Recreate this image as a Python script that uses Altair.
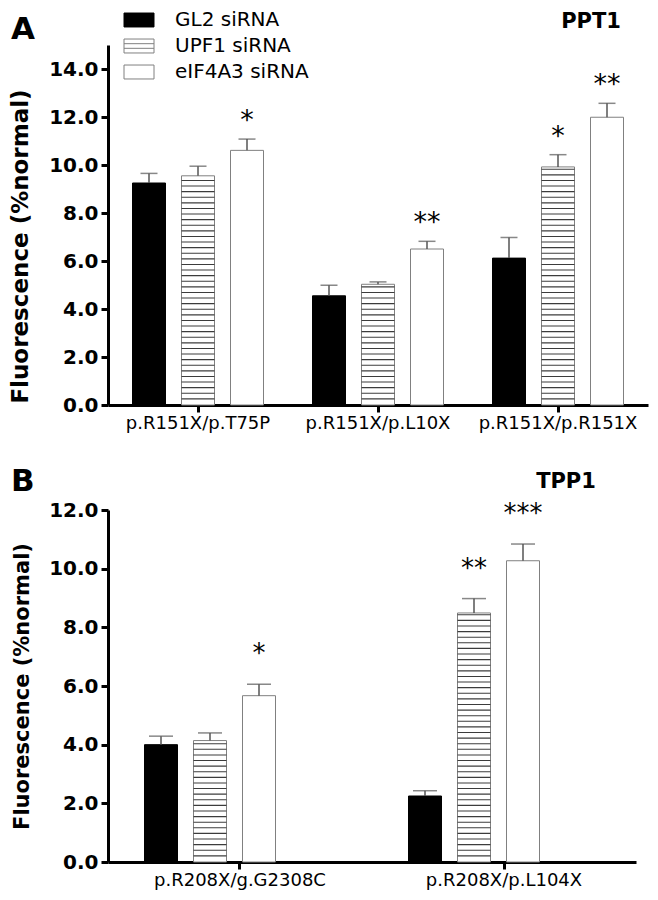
import altair as alt
import pandas as pd

series = ["GL2 siRNA", "UPF1 siRNA", "eIF4A3 siRNA"]

# Panel A (PPT1)
cats_a = ["p.R151X/p.T75P", "p.R151X/p.L10X", "p.R151X/p.R151X"]
gl2_a = [9.25, 4.55, 6.12]
gl2_a_err = [0.40, 0.44, 0.86]
upf1_a = [9.55, 5.03, 9.92]
upf1_a_err = [0.40, 0.10, 0.51]
eif_a = [10.61, 6.50, 11.99]
eif_a_err = [0.47, 0.32, 0.58]
gl2_a_sig = ["", "", ""]
upf1_a_sig = ["", "", "*"]
eif_a_sig = ["*", "**", "**"]
ticks_a = [0, 2, 4, 6, 8, 10, 12, 14]

# Panel B (TPP1)
cats_b = ["p.R208X/g.G2308C", "p.R208X/p.L104X"]
gl2_b = [4.00, 2.25]
gl2_b_err = [0.29, 0.18]
upf1_b = [4.14, 8.49]
upf1_b_err = [0.26, 0.49]
eif_b = [5.67, 10.27]
eif_b_err = [0.39, 0.57]
gl2_b_sig = ["", ""]
upf1_b_sig = ["", "**"]
eif_b_sig = ["*", "***"]
ticks_b = [0, 2, 4, 6, 8, 10, 12]

FONT = "DejaVu Sans"


def frame(cats, vals, errs, sigs):
    rows = []
    for s, v, e, g in zip(series, vals, errs, sigs):
        for c, vv, ee, gg in zip(cats, v, e, g):
            rows.append({"cat": c, "series": s, "value": vv, "err": ee, "sig": gg})
    return pd.DataFrame(rows)


df_a = frame(cats_a, [gl2_a, upf1_a, eif_a], [gl2_a_err, upf1_a_err, eif_a_err],
             [gl2_a_sig, upf1_a_sig, eif_a_sig])
df_b = frame(cats_b, [gl2_b, upf1_b, eif_b], [gl2_b_err, upf1_b_err, eif_b_err],
             [gl2_b_sig, upf1_b_sig, eif_b_sig])

rect_path = "M-2,-0.93H2V0.93H-2Z"
hatch_path = "M-2,-0.93H2V0.93H-2Z M-2,-0.31H2 M-2,0.31H2"


def panel(df, cats, width, height, ymax, ticks, px_unit, pin, pin_off,
          cap, star_size, star_dy, letter, letter_xy, gene, gene_xy,
          tick_fs, title_fs, title_weight, title_y=None, legend=False):
    base = alt.Chart(df).transform_calculate(top="datum.value + datum.err")
    x = alt.X("cat:N", sort=cats,
              scale=alt.Scale(domain=cats, paddingInner=pin, paddingOuter=pin / 2),
              axis=alt.Axis(title=None, labelAngle=0, domainWidth=3, domainColor="black",
                            tickWidth=3, tickSize=7, tickColor="black",
                            labelFont=FONT, labelFontSize=18, labelColor="black",
                            labelPadding=2))
    xo = alt.XOffset("series:N", sort=series,
                     scale=alt.Scale(domain=series, paddingInner=pin_off, paddingOuter=0))
    yaxis = dict(values=ticks, format=".1f", grid=False, domainWidth=3,
                 domainColor="black", tickWidth=3, tickSize=7, tickColor="black",
                 labelFont=FONT, labelFontSize=tick_fs, labelFontWeight="bold",
                 labelColor="black", labelPadding=3,
                 title="Fluorescence (%normal)", titleFont=FONT,
                 titleFontSize=title_fs, titleFontWeight=title_weight, titleColor="black",
                 titlePadding=16)
    if title_y is not None:
        yaxis["titleY"] = title_y
    y = alt.Y("value:Q", scale=alt.Scale(domain=[0, ymax], nice=False, zero=True),
              axis=alt.Axis(**yaxis))

    is_gl2 = alt.datum.series == "GL2 siRNA"
    bars = base.mark_bar(strokeWidth=1).encode(
        x=x, xOffset=xo, y=y,
        fill=alt.condition(is_gl2, alt.value("black"), alt.value("white")),
        stroke=alt.condition(is_gl2, alt.value("black"), alt.value("#808080")),
    )
    step = 5.6 / px_unit
    thick = 1.1 / px_unit
    hatch = base.transform_filter(alt.datum.series == "UPF1 siRNA").transform_calculate(
        hy=f"sequence({step}, datum.value, {step})"
    ).transform_flatten(["hy"]).transform_calculate(
        hy2=f"datum.hy + {thick}"
    ).mark_bar(fill="#3c3c3c", strokeWidth=0).encode(
        x=x, xOffset=xo, y=alt.Y("hy:Q"), y2=alt.Y2("hy2:Q"))
    err = base.mark_rule(color="#555555", strokeWidth=1.5).encode(
        x=x, xOffset=xo, y=alt.Y("value:Q"), y2=alt.Y2("top:Q"))
    caps = base.mark_tick(color="#555555", thickness=1.5, size=cap, orient="horizontal").encode(
        x=x, xOffset=xo, y=alt.Y("top:Q"))
    stars = base.mark_text(font=FONT, fontSize=star_size, dy=star_dy, color="black",
                           baseline="alphabetic").encode(
        x=x, xOffset=xo, y=alt.Y("top:Q"), text="sig:N")
    lab = alt.Chart(pd.DataFrame({"t": [letter]})).mark_text(
        font=FONT, fontSize=31, fontWeight="bold", align="left", baseline="alphabetic",
        color="black").encode(text="t:N", x=alt.value(letter_xy[0]), y=alt.value(letter_xy[1]))
    gen = alt.Chart(pd.DataFrame({"t": [gene]})).mark_text(
        font=FONT, fontSize=21, fontWeight="bold", align="center", baseline="alphabetic",
        color="black").encode(text="t:N", x=alt.value(gene_xy[0]), y=alt.value(gene_xy[1]))
    layers = [bars, hatch, err, caps, stars, lab, gen]
    if legend:
        lg = alt.Legend(title=None, orient="none", legendX=16, legendY=-35,
                        symbolSize=225, symbolOffset=5, labelFont=FONT, labelFontSize=20,
                        labelColor="black", labelOffset=26, rowPadding=6,
                        padding=0, symbolStrokeWidth=1, symbolOpacity=1)
        leg = base.mark_point(opacity=0, filled=True, strokeWidth=1).encode(
            x=x, xOffset=xo, y=alt.Y("value:Q"),
            shape=alt.Shape("series:N", scale=alt.Scale(domain=series,
                            range=[rect_path, hatch_path, rect_path]), legend=lg),
            fill=alt.Fill("series:N", scale=alt.Scale(domain=series,
                          range=["black", "white", "white"]), legend=lg),
            stroke=alt.Stroke("series:N", scale=alt.Scale(domain=series,
                              range=["black", "#808080", "#808080"]), legend=lg),
        )
        layers.append(leg)
    return alt.layer(*layers).properties(
        width=width, height=height,
        view=alt.ViewBackground(stroke="white", strokeWidth=0, strokeOpacity=0))


pa = panel(df_a, cats_a, 540, 360, 15, ticks_a, 24, 49 / 180, 16 / 49,
           17, 27, -10, "A", (-97, -6), "PPT1", (483, -17), 20, 23, "bold",
           title_y=201, legend=True)
pb = panel(df_b, cats_b, 528, 352, 12, ticks_b, 29.3, 73 / 264, 25 / 72,
           24, 26, -22, "B", (-97, -19), "TPP1", (458, -22), 20, 21, "bold")

chart = alt.vconcat(pa, pb, spacing=105, bounds="flush").properties(
    padding={"top": 2, "left": 1, "right": 2, "bottom": 2},
    background="white",
).configure_view(stroke="white", strokeWidth=0, strokeOpacity=0)

chart.save("out.html", embed_options={"renderer": "svg", "actions": False})
